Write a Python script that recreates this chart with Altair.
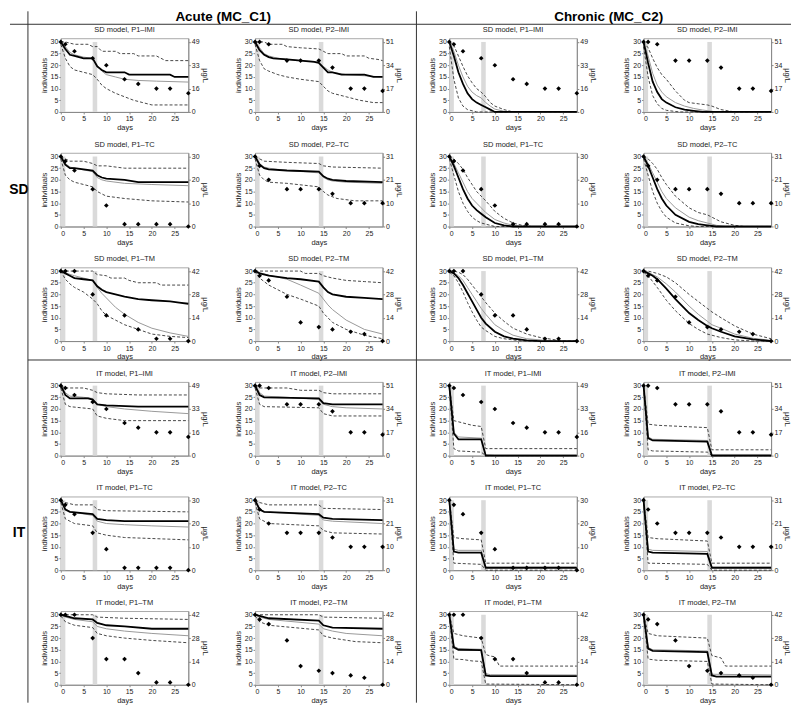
import altair as alt
import pandas as pd

FONT = "Liberation Sans"
W, H = 128, 74
YMAX = 31.6
COL_SP, ROW_SP = 67, 41

# ---------------- observed survival (diamonds) ----------------
OBS_DAYS = [0, 1, 3, 7, 10, 14, 17, 21, 24, 28]
OBS_P1_IMI = [30, 29, 26, 23, 20, 14, 12, 10, 10, 8]
OBS_P2_IMI = [30, 30, 29, 22, 22, 22, 19, 10, 10, 9]
OBS_P1_TC = [30, 28, 24, 16, 9, 1, 1, 1, 1, 0]
OBS_P2_TC = [30, 26, 20, 16, 16, 16, 14, 10, 10, 10]
OBS_P1_TM = [30, 30, 30, 20, 11, 11, 5, 1, 1, 0]
OBS_P2_TM = [30, 28, 26, 19, 8, 6, 5, 4, 3, 0]
OBS = {"P1–IMI": OBS_P1_IMI, "P2–IMI": OBS_P2_IMI, "P1–TC": OBS_P1_TC,
       "P2–TC": OBS_P2_TC, "P1–TM": OBS_P1_TM, "P2–TM": OBS_P2_TM}

# peak concentration (µg/L) of each pulse
CMAX = {"P1–IMI": 49, "P2–IMI": 51, "P1–TC": 30, "P2–TC": 31, "P1–TM": 42, "P2–TM": 42}
PULSE2 = {"P1": 7, "P2": 14}

# ---------------- model curves: [day, individuals] ----------------
# med = median (black), fit = best fit (grey), up / lo = 95% bounds (dashed)
SD_AC_P1_IMI = {
    "med": [[0,30],[1,27],[2,24.5],[3,24],[5,23],[7,23],[8,19.5],[9,18],[10,17],[14,17],[15,16],[24,16],[25,15],[28,15]],
    "fit": [[0,30],[1,28],[2,25.5],[3,24.5],[5,23.5],[7,23],[8,20],[9,17.5],[10,16],[12,15],[14,14],[17,13.5],[21,13.2],[28,12.8]],
    "up":  [[0,30],[1,30],[3,29],[6,29],[7,28],[8,28],[9,26],[12,26],[13,25],[16,25],[17,24],[21,24],[22,23],[23,22],[28,22]],
    "lo":  [[0,29],[1,23],[2,19.5],[3,18],[5,17],[7,16],[8,14],[9,11.5],[10,10],[12,8],[14,6.5],[16,5],[18,4],[20,3],[28,3]]}
SD_AC_P2_IMI = {
    "med": [[0,30],[1,26.5],[2,24.5],[3,23.5],[4,23],[7,22.5],[10,22],[13,21.5],[14,21],[15,19],[16,17],[17,17],[19,16],[24,16],[26,15],[28,15]],
    "fit": [[0,30],[1,27.5],[2,25],[3,24],[5,23],[7,22.5],[10,22],[14,21.5],[15,19.5],[16,18],[17,17],[20,16],[24,15.5],[28,15]],
    "up":  [[0,30],[2,30],[3,29],[6,29],[7,28],[10,27.5],[14,27],[15,26],[16,25],[19,25],[20,24],[24,24],[25,23],[27,22.5],[28,22]],
    "lo":  [[0,29],[1,22],[2,18.5],[3,17.5],[5,16],[7,15],[10,14],[14,13],[15,11],[16,9],[17,8],[20,6.5],[23,5],[26,4],[28,4]]}
SD_AC_P1_TC = {
    "med": [[0,30],[1,26.5],[2,25],[3,25],[7,24],[8,22],[9,21],[10,20.5],[14,20],[17,19],[28,19]],
    "fit": [[0,30],[1,27],[2,25.5],[3,25],[7,23.5],[8,21],[9,20],[10,19.5],[14,18.5],[20,18],[28,17.5]],
    "up":  [[0,30],[1,29],[2,28],[5,28],[7,27],[8,26],[10,26],[14,25],[28,25]],
    "lo":  [[0,29],[1,22],[2,20],[3,19],[7,17],[8,15],[9,14],[10,13],[14,12],[20,11],[28,10.5]]}
SD_AC_P2_TC = {
    "med": [[0,30],[1,26.5],[2,25],[3,24.5],[7,24],[14,23.5],[15,21.5],[16,20.5],[17,20],[20,19.5],[28,19]],
    "fit": [[0,30],[1,27],[2,25.5],[3,25],[7,24],[14,23],[15,21],[16,20],[17,19.5],[20,19],[28,18.5]],
    "up":  [[0,30],[1,29],[2,28],[7,27.5],[14,27],[15,26],[17,25.5],[28,25]],
    "lo":  [[0,29],[1,22],[2,20],[3,19],[7,18.5],[14,17],[15,15],[16,13.5],[18,12],[22,11],[28,11]]}
SD_AC_P1_TM = {
    "med": [[0,30],[1,29],[2,28],[3,27],[5,26.5],[7,26],[8,23.5],[9,22],[10,21],[12,20],[14,19],[17,18],[20,17.5],[24,17],[26,16.5],[28,16]],
    "fit": [[0,30],[1,29.3],[2,28.6],[3,28],[5,27],[7,26],[8,23],[9,20.5],[10,18.5],[12,14.5],[14,11.5],[17,8],[20,5.5],[24,3.5],[28,2]],
    "up":  [[0,30],[7,30],[8,28.5],[10,28],[11,27],[14,27],[15,26],[17,25],[21,25],[22,24],[28,24]],
    "lo":  [[0,30],[1,26.5],[2,24.5],[3,23],[5,21],[7,18],[8,16],[9,13],[10,11],[12,9],[14,7],[17,5],[20,3],[24,2],[28,1.5]]}
SD_AC_P2_TM = {
    "med": [[0,30],[1,29],[3,28],[7,27],[10,26.5],[14,25.5],[15,23],[16,21],[17,20],[20,19],[24,18.5],[28,18]],
    "fit": [[0,30],[1,29.3],[3,28.3],[7,26.5],[10,24],[14,20.5],[15,18],[16,15.5],[17,13.5],[20,9],[24,5],[28,3]],
    "up":  [[0,30],[10,30],[11,29],[14,29],[15,28],[17,27],[20,26],[24,25.5],[28,25]],
    "lo":  [[0,30],[1,27],[3,24],[5,22],[7,20],[10,18],[14,15],[15,12],[16,10],[17,8],[20,5],[24,2.5],[28,1]]}

SD_CH_P1_IMI = {
    "med": [[0,30],[1,24],[2,17],[3,12],[4,8],[5,5.5],[6,4],[7,3],[8,2],[9,1],[10,0],[28,0]],
    "fit": [[0,30],[1,26],[2,20],[3,15],[4,11],[5,8.5],[6,7],[7,6],[8,4],[9,2.5],[10,1.2],[12,0.3],[13,0],[28,0]],
    "up":  [[0,30],[1,28.5],[2,24],[3,19.5],[4,15.5],[5,12.5],[6,10],[7,8.5],[8,6.5],[9,4],[10,2.5],[12,1],[13,0.5],[14,0],[28,0]],
    "lo":  [[0,28],[1,14],[2,6],[3,2.5],[4,1],[5,0.5],[6,0],[28,0]]}
SD_CH_P2_IMI = {
    "med": [[0,30],[1,21],[2,13],[3,8.5],[4,5.5],[5,4],[7,2],[9,1],[11,0.5],[13,0],[28,0]],
    "fit": [[0,30],[1,24],[2,16.5],[3,11.5],[4,8.5],[5,6.5],[7,4],[9,2.5],[11,1.5],[13,0.8],[15,0.3],[16,0],[28,0]],
    "up":  [[0,30],[1,27.5],[2,23],[3,19],[4,16],[5,14],[7,9],[9,5],[10,4],[12,3.5],[14,3],[15,2.5],[17,1],[20,0],[28,0]],
    "lo":  [[0,28],[1,15],[2,7],[3,3.5],[4,1.5],[5,0.7],[7,0.2],[8,0],[28,0]]}
SD_CH_P1_TC = {
    "med": [[0,30],[1,26],[2,21],[3,16],[4,12],[5,9],[6,7],[7,5.5],[8,4],[10,1.5],[12,0.5],[14,0],[28,0]],
    "fit": [[0,30],[1,27],[2,23],[3,19],[4,15],[5,12],[6,10],[7,8],[8,6],[10,3],[12,1.5],[14,0.5],[16,0],[28,0]],
    "up":  [[0,30],[1,29],[2,27],[3,24.5],[4,21],[5,18],[6,15],[7,13],[8,11],[10,6.5],[12,3.5],[14,1.5],[16,0.5],[18,0],[28,0]],
    "lo":  [[0,29],[1,22],[2,15],[3,10],[4,6.5],[5,4],[6,2.5],[7,1.5],[8,1],[10,0],[28,0]]}
SD_CH_P2_TC = {
    "med": [[0,30],[1,26],[2,21],[3,16],[4,12],[5,9],[7,5],[10,2],[12,1],[14,0.5],[16,0],[28,0]],
    "fit": [[0,30],[1,27],[2,23],[3,19],[4,15],[5,12],[7,8],[10,4],[12,2.5],[14,1.5],[16,0.5],[18,0],[28,0]],
    "up":  [[0,30],[1,29],[2,27],[3,24.5],[4,21],[5,18],[7,13],[10,8],[12,6],[14,5],[15,4],[17,2],[20,0.5],[22,0],[28,0]],
    "lo":  [[0,29],[1,22],[2,15],[3,10],[4,6.5],[5,4],[7,1.5],[10,0.3],[12,0],[28,0]]}
SD_CH_P1_TM = {
    "med": [[0,30],[1,29],[2,27],[3,24],[4,20.5],[5,17],[6,13.5],[7,10],[8,7.5],[10,4],[12,2],[14,1],[17,0.3],[20,0],[28,0]],
    "fit": [[0,30],[1,29.3],[2,28],[3,26],[4,23],[5,20],[6,17],[7,14],[8,11.5],[10,7],[12,4.5],[14,2.5],[17,1],[20,0.5],[22,0],[28,0]],
    "up":  [[0,30],[1,30],[2,29.5],[3,28.5],[4,26.5],[5,24],[6,21.5],[7,19],[8,16.5],[10,12],[12,8.5],[14,5.5],[17,3],[20,1.5],[24,0.3],[25,0],[28,0]],
    "lo":  [[0,29.5],[1,28],[2,25],[3,21],[4,16.5],[5,12.5],[6,9],[7,6],[8,4.5],[10,2],[12,1],[14,0.5],[16,0],[28,0]]}
SD_CH_P2_TM = {
    "med": [[0,30],[1,29],[2,28],[3,26.5],[5,22.5],[7,18],[10,12],[12,9],[14,6.5],[15,5.5],[17,4],[20,2],[24,0.7],[28,0]],
    "fit": [[0,30],[1,29.5],[2,28.5],[3,27.5],[5,24.5],[7,21],[10,15],[12,11.5],[14,8.5],[15,7],[17,5.5],[20,3],[24,1.2],[28,0.3]],
    "up":  [[0,30],[1,30],[3,29],[5,27.5],[7,25],[10,20],[12,17],[14,14],[15,12.5],[17,10],[20,6.5],[24,3],[28,1]],
    "lo":  [[0,29.5],[1,28],[3,23],[5,17.5],[7,13],[10,7.5],[12,5],[14,3],[15,2.5],[17,1.5],[20,0.5],[24,0],[28,0]]}

IT_AC_P1_IMI = {
    "med": [[0,30],[1,26],[2,24.5],[6,24.5],[7,24],[8,22],[10,21.5],[17,21],[28,21]],
    "fit": [[0,30],[1,27],[2,25.5],[5,25],[7,24.5],[8,22],[10,21],[14,20],[20,19],[28,18]],
    "up":  [[0,30],[1,29],[5,29],[7,28],[8,27],[10,26.5],[17,26],[28,26]],
    "lo":  [[0,29],[1,22],[2,21],[7,20],[8,17],[10,16],[14,15],[28,15]]}
IT_AC_P2_IMI = {
    "med": [[0,30],[1,26],[2,25],[14,24.5],[15,22.5],[17,22],[28,22]],
    "fit": [[0,30],[1,27],[2,25.5],[7,25],[14,24],[15,22],[17,21],[20,20.5],[28,20]],
    "up":  [[0,30],[1,29],[7,29],[10,28],[14,28],[15,27],[17,26.5],[28,26.5]],
    "lo":  [[0,29],[1,22],[2,21],[14,20.5],[15,18],[17,17],[28,17]]}
IT_AC_P1_TC = {
    "med": [[0,30],[1,26],[2,25],[7,24],[8,22],[10,21.5],[14,21],[28,21]],
    "fit": [[0,30],[1,26.5],[2,25],[7,23.5],[8,21],[10,20],[14,19.5],[20,19],[28,18.5]],
    "up":  [[0,30],[1,29],[3,28],[7,28],[8,26],[10,25.5],[28,25]],
    "lo":  [[0,29],[1,22],[3,20],[7,19],[8,16],[10,15],[14,14],[28,13]]}
IT_AC_P2_TC = {
    "med": [[0,30],[1,26],[2,25],[14,24],[15,22.5],[17,22],[28,21.5]],
    "fit": [[0,30],[1,26.5],[2,25],[14,23.5],[15,21.5],[17,21],[28,20]],
    "up":  [[0,30],[1,29],[3,28],[14,28],[15,26.5],[28,26]],
    "lo":  [[0,29],[1,22],[3,20],[14,19],[15,17],[17,16],[28,15.5]]}
IT_AC_P1_TM = {
    "med": [[0,30],[1,29.5],[3,28.5],[7,28],[8,26.5],[10,25.5],[14,25],[20,24],[28,24]],
    "fit": [[0,30],[1,29],[3,28],[7,27],[8,25],[10,24],[14,23],[20,22],[28,21]],
    "up":  [[0,30],[7,30],[8,29],[14,28.5],[28,28]],
    "lo":  [[0,29.5],[1,27],[3,25.5],[7,24.5],[8,22],[10,21],[14,20],[20,19],[28,18]]}
IT_AC_P2_TM = {
    "med": [[0,30],[1,29.5],[3,28.5],[14,27.5],[15,25.5],[17,24.5],[28,24]],
    "fit": [[0,30],[1,29],[3,28],[14,26],[15,24],[17,23],[20,22],[28,21]],
    "up":  [[0,30],[14,30],[15,29],[28,28.5]],
    "lo":  [[0,29.5],[1,27],[3,25.5],[14,23.5],[15,21],[17,20],[22,18.5],[28,18]]}

IT_CH_P1_IMI = {
    "med": [[0,30],[1,9.5],[2,7],[7,7],[8,0],[28,0]],
    "fit": [[0,30],[1,10],[2,8],[7,7.5],[8,0.5],[10,0.3],[28,0.3]],
    "up":  [[0,30],[1,15],[3,14],[5,13],[7,12.5],[8,3],[28,3]],
    "lo":  [[0,29],[1,3],[2,2],[7,1.5],[8,0],[28,0]]}
IT_CH_P2_IMI = {
    "med": [[0,30],[1,7.5],[2,6.5],[14,6],[15,0],[28,0]],
    "fit": [[0,30],[1,8],[2,7],[14,6.5],[15,0.5],[28,0.5]],
    "up":  [[0,30],[1,13.5],[3,13],[14,12],[15,2.5],[28,2.5]],
    "lo":  [[0,29],[1,2.5],[2,2],[14,1.5],[15,0],[28,0]]}
IT_CH_P1_TC = {
    "med": [[0,30],[1,8],[2,7.5],[7,7.5],[8,1],[28,1]],
    "fit": [[0,30],[1,9],[2,8.5],[7,8.5],[8,1.5],[28,1.5]],
    "up":  [[0,30],[1,14],[3,13.5],[7,13],[8,3],[28,3]],
    "lo":  [[0,29],[1,3],[7,2.5],[8,0],[28,0]]}
IT_CH_P2_TC = {
    "med": [[0,30],[1,8],[2,7.5],[14,7],[15,1],[28,1]],
    "fit": [[0,30],[1,9],[2,8.5],[14,8],[15,1.5],[28,1.5]],
    "up":  [[0,30],[1,14],[3,13.5],[14,12.5],[15,3],[28,3]],
    "lo":  [[0,29],[1,3],[14,2.5],[15,0],[28,0]]}
IT_CH_P1_TM = {
    "med": [[0,30],[1,16],[2,15],[7,14.8],[8,4],[9,3.7],[28,3.7]],
    "fit": [[0,30],[1,16.5],[2,15.5],[7,15.2],[8,4.8],[9,4.3],[28,4.2]],
    "up":  [[0,30],[1,22],[3,21],[5,20.5],[7,20],[8,13],[9,12.3],[10,12],[11,8],[28,8]],
    "lo":  [[0,29.5],[1,11],[3,10.8],[5,10.2],[7,10],[8,0.3],[28,0]]}
IT_CH_P2_TM = {
    "med": [[0,30],[1,15.5],[2,14.5],[14,14],[15,4],[16,3.5],[28,3.5]],
    "fit": [[0,30],[1,16],[2,15],[14,14.5],[15,4.5],[28,4.2]],
    "up":  [[0,30],[1,22],[3,21],[14,20],[15,12.5],[17,11.5],[18,8],[28,8]],
    "lo":  [[0,29.5],[1,11],[3,10.5],[14,10],[15,0.3],[28,0]]}

GRID = [
    ("SD", [("P1–IMI", SD_AC_P1_IMI), ("P2–IMI", SD_AC_P2_IMI), ("P1–IMI", SD_CH_P1_IMI), ("P2–IMI", SD_CH_P2_IMI)]),
    ("SD", [("P1–TC", SD_AC_P1_TC), ("P2–TC", SD_AC_P2_TC), ("P1–TC", SD_CH_P1_TC), ("P2–TC", SD_CH_P2_TC)]),
    ("SD", [("P1–TM", SD_AC_P1_TM), ("P2–TM", SD_AC_P2_TM), ("P1–TM", SD_CH_P1_TM), ("P2–TM", SD_CH_P2_TM)]),
    ("IT", [("P1–IMI", IT_AC_P1_IMI), ("P2–IMI", IT_AC_P2_IMI), ("P1–IMI", IT_CH_P1_IMI), ("P2–IMI", IT_CH_P2_IMI)]),
    ("IT", [("P1–TC", IT_AC_P1_TC), ("P2–TC", IT_AC_P2_TC), ("P1–TC", IT_CH_P1_TC), ("P2–TC", IT_CH_P2_TC)]),
    ("IT", [("P1–TM", IT_AC_P1_TM), ("P2–TM", IT_AC_P2_TM), ("P1–TM", IT_CH_P1_TM), ("P2–TM", IT_CH_P2_TM)]),
]

HEADERS = ["Acute (MC_C1)", "Chronic (MC_C2)"]
ROW_LABELS = ["SD", "IT"]

ONE = alt.Data(values=[{"k": 1}])


def decorations():
    out = []
    for txt, xv in zip(HEADERS, [163, 550]):
        out.append(alt.Chart(ONE).mark_text(text=txt, font=FONT, fontSize=13.5, fontWeight="bold",
                                            align="center", baseline="middle", color="black")
                   .encode(x=alt.value(xv), y=alt.value(-21)))
    for txt, yv in zip(ROW_LABELS, [152, 497]):
        out.append(alt.Chart(ONE).mark_text(text=txt, font=FONT, fontSize=14, fontWeight="bold",
                                            align="center", baseline="middle", color="black")
                   .encode(x=alt.value(-42), y=alt.value(yv)))
    rule = dict(color="#333", strokeWidth=1)
    out.append(alt.Chart(ONE).mark_rule(**rule).encode(x=alt.value(-51), x2=alt.value(733), y=alt.value(-14)))
    out.append(alt.Chart(ONE).mark_rule(**rule).encode(x=alt.value(-33), x2=alt.value(733), y=alt.value(323)))
    out.append(alt.Chart(ONE).mark_rule(**rule).encode(x=alt.value(-33), y=alt.value(-27), y2=alt.value(667)))
    out.append(alt.Chart(ONE).mark_rule(**rule).encode(x=alt.value(357), y=alt.value(-27), y2=alt.value(667)))
    return out


def panel(model, trt, curves, deco=None):
    m = CMAX[trt]
    p2 = PULSE2[trt[:2]]
    rows = []
    for key in ["up", "lo", "fit", "med"]:
        for d, v in curves[key]:
            rows.append({"day": d, "v": v, "s": key})
    df = pd.DataFrame(rows)
    obs = pd.DataFrame({"day": OBS_DAYS, "v": OBS[trt]})
    pulses = pd.DataFrame({"x0": [0, p2], "x1": [1, p2 + 1], "c": [m, m], "c0": [0, 0]})

    xs = alt.Scale(domain=[0, 28], nice=False, zero=False)
    xax = alt.Axis(values=[0, 5, 10, 15, 20, 25], title="days", grid=False)
    ys = alt.Scale(domain=[0, YMAX], nice=False)
    yax = alt.Axis(orient="left", values=[0, 5, 10, 15, 20, 25, 30], title="individuals", grid=False)
    cax = alt.Axis(orient="right", values=[0, m / 3, 2 * m / 3, m], format=".0f", title="µg/L",
                   grid=False, titlePadding=1)

    bars = alt.Chart(pulses).mark_rect(color="#dadada").encode(
        x=alt.X("x0:Q", scale=xs, axis=xax), x2="x1:Q",
        y=alt.Y("c:Q", scale=alt.Scale(domain=[0, m * YMAX / 30], nice=False), axis=cax),
        y2="c0:Q")

    base = alt.Chart(df).encode(x=alt.X("day:Q", scale=xs, axis=xax),
                                y=alt.Y("v:Q", scale=ys, axis=yax))
    dashed = base.transform_filter(alt.FieldOneOfPredicate(field="s", oneOf=["up", "lo"])).mark_line(
        color="#333", strokeWidth=0.9, strokeDash=[3, 2]).encode(detail="s:N")
    fit = base.transform_filter(alt.datum.s == "fit").mark_line(color="#9a9a9a", strokeWidth=1)
    med = base.transform_filter(alt.datum.s == "med").mark_line(color="black", strokeWidth=1.8)
    pts = alt.Chart(obs).mark_point(shape="diamond", filled=True, color="black", size=22, opacity=1).encode(
        x=alt.X("day:Q", scale=xs, axis=xax), y=alt.Y("v:Q", scale=ys, axis=yax))
    inner = alt.layer(dashed, fit, med, pts)

    title = alt.Chart(ONE).mark_text(text=f"{model} model, {trt}", font=FONT, fontSize=7.5,
                                     align="center", baseline="middle", color="#222").encode(
        x=alt.value(W / 2), y=alt.value(-8))

    layers = [bars, inner, title] + (deco or [])
    return alt.layer(*layers).resolve_scale(y="independent").properties(width=W, height=H)


panels = []
for r, (model, cells) in enumerate(GRID):
    for c, (trt, curves) in enumerate(cells):
        panels.append(panel(model, trt, curves, decorations() if (r == 0 and c == 0) else None))

chart = alt.ConcatChart(concat=panels, columns=4, spacing={"row": ROW_SP, "column": COL_SP},
                        bounds="flush", padding=0)
chart = chart.configure_view(stroke="#aaa", strokeWidth=1).configure_axis(
    labelFont=FONT, titleFont=FONT, labelFontSize=7, titleFontSize=7.5, labelColor="#222",
    titleColor="#222", titleFontWeight="normal", domainColor="#888", tickColor="#888",
    tickSize=2, labelPadding=1, titlePadding=2, grid=False)

chart.save("out.html", embed_options={"renderer": "svg", "actions": False})
